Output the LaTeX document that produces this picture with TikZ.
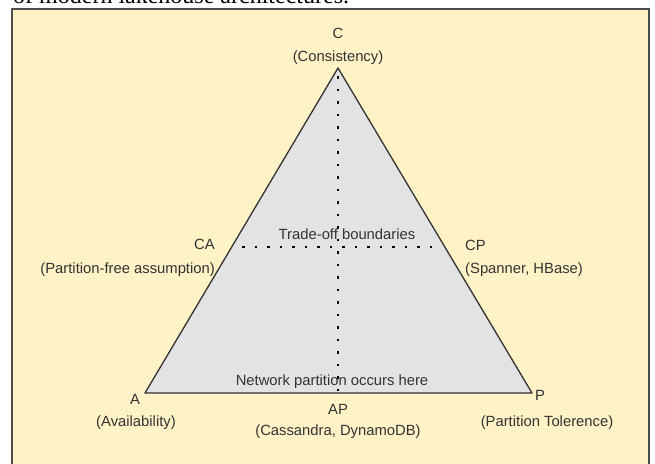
\documentclass[tikz,border=0pt]{standalone}
\usepackage{fontspec}
\setmainfont{Liberation Serif}
\newfontfamily\capfont{Liberation Sans}
\usetikzlibrary{positioning}
\definecolor{panel}{HTML}{FFF2C6}
\definecolor{trifill}{HTML}{E3E3E3}
\definecolor{ink}{HTML}{333333}
\tikzset{lbl/.style={font=\capfont\fontsize{14.8}{17}\selectfont, text=ink, inner sep=0pt},
  dots/.style={line width=2.7pt, dash pattern=on 2.7pt off 9.8pt}}

\begin{document}
\begin{tikzpicture}[x=1pt,y=-1pt]
\useasboundingbox (0,0) rectangle (655,463);
\clip (0,0) rectangle (655,463);
% cut-off caption line above the panel
\node[anchor=base west, inner sep=0pt, font=\fontsize{24}{28}\selectfont] (caption) at (13,4) {of modern lakehouse architectures.};
\draw[fill=panel, draw=black!70, line width=1.5pt] (12,9) rectangle (649,480);
% corners of the triangle
\coordinate (C) at (338,68);
\coordinate (A) at (145,393);
\coordinate (P) at (532,393);
\draw[fill=trifill, draw=ink, line width=1.3pt, line join=round] (A) -- (C) -- (P) -- cycle;
% trade-off lines
\coordinate (Ctip) at (338,76);
\coordinate (AP) at (338,393);
\coordinate (CAend) at (242,247);
\coordinate (CPend) at (433,247);
\draw[dots] (Ctip) -- (AP);
\draw[dots] (CAend) -- (CPend);
% labels
\node[lbl, anchor=base] (Cname) at (338,38) {C};
\node[lbl, anchor=base] (Cdesc) at (338,61) {(Consistency)};
\node[lbl, anchor=base east] (CAname) at (215,249) {CA};
\node[lbl, anchor=base east] (CAdesc) at (215,273) {(Partition-free assumption)};
\node[lbl, anchor=base west] (CPname) at (465,250) {CP};
\node[lbl, anchor=base west] (CPdesc) at (465,273) {(Spanner, HBase)};
\node[lbl, anchor=base] (Aname) at (135,404) {A};
\node[lbl, anchor=base] (Adesc) at (136,426) {(Availability)};
\node[lbl, anchor=base] (APname) at (338,414) {AP};
\node[lbl, anchor=base] (APdesc) at (338,435) {(Cassandra, DynamoDB)};
\node[lbl, anchor=base] (Pname) at (540,400) {P};
\node[lbl, anchor=base] (Pdesc) at (547,426) {(Partition Tolerence)};
\node[lbl, anchor=base] (tradeoff) at (347,239) {Trade-off boundaries};
\node[lbl, anchor=base] (netpart) at (332,385) {Network partition occurs here};
\end{tikzpicture}
\end{document}
